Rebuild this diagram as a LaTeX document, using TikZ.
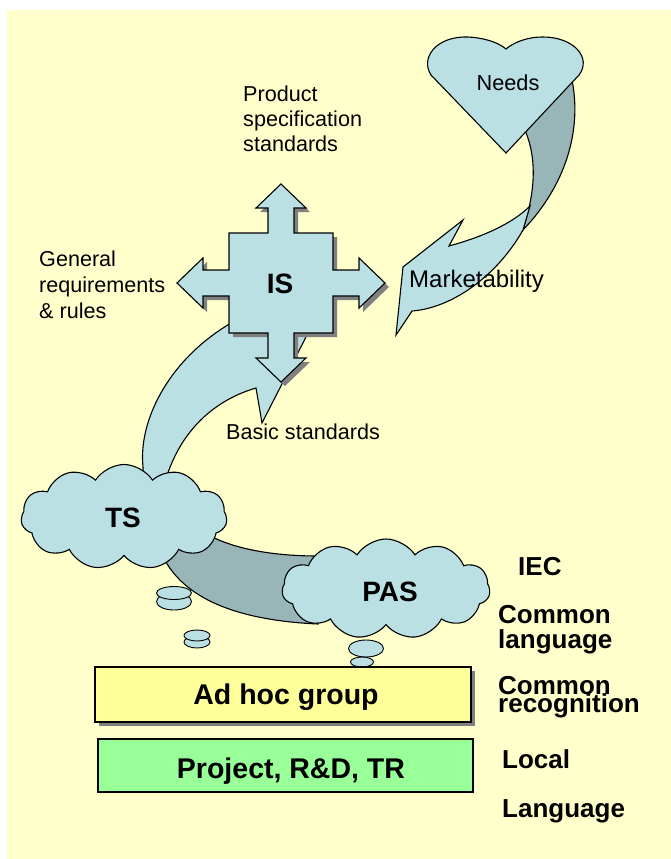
\documentclass[tikz,border=0pt]{standalone}
\usepackage{fontspec}
\setmainfont{Liberation Sans}
\usetikzlibrary{shapes.symbols}
\definecolor{bgyel}{HTML}{FFFFCC}
\definecolor{lblue}{HTML}{BAE0E4}
\definecolor{dblue}{HTML}{98B5B8}
\definecolor{boxyel}{HTML}{FFFF99}
\definecolor{boxgrn}{HTML}{99FF99}
\definecolor{shad}{HTML}{808080}
\begin{document}
\begin{tikzpicture}[x=1pt,y=-1pt,line join=miter,
  shapeln/.style={draw=black,line width=1.1pt,fill=lblue},
  darkln/.style={draw=black,line width=1.1pt,fill=dblue},
  bub/.style={draw=black,line width=0.9pt,fill=lblue},
  cloudst/.style={cloud,cloud puffs=11,cloud puff arc=115,draw=black,line width=1.1pt,fill=lblue,inner sep=0pt},
  boxst/.style={draw=black,line width=1.6pt,inner sep=0pt},
  lbl/.style={font=\fontsize{21.6}{26}\selectfont,inner sep=0pt,anchor=base west},
  biglbl/.style={font=\bfseries\fontsize{28}{32}\selectfont,inner sep=0pt,anchor=base},
  sidelbl/.style={font=\bfseries\fontsize{26}{30}\selectfont,inner sep=0pt,anchor=base west},
  isarrow/.pic={\path[pic actions] (0,-99) -- (25,-75) -- (13,-75) -- (13,-50) -- (52,-50) -- (52,-13) -- (78,-13) -- (78,-25) -- (104,0) -- (78,25) -- (78,13) -- (52,13) -- (52,50) -- (13,50) -- (13,75) -- (25,75) -- (0,99) -- (-25,75) -- (-13,75) -- (-13,50) -- (-52,50) -- (-52,13) -- (-78,13) -- (-78,25) -- (-104,0) -- (-78,-25) -- (-78,-13) -- (-52,-13) -- (-52,-50) -- (-13,-50) -- (-13,-75) -- (-25,-75) -- cycle;}
]
\useasboundingbox (0,0) rectangle (671,859);
\fill[bgyel] (7,10) rectangle (671,859);

% TS -> IS curved arrow
\draw[shapeln] (143,482) -- (143,467) .. controls (138,420) and (170,355) .. (240,318) -- (300,318) -- (308,333) -- (262,423) -- (256,388) .. controls (215,400) and (180,430) .. (165,482) -- cycle;

% IS four-way arrow with shadow
\pic[fill=shad] at (285,287) {isarrow};
\pic[draw=black,line width=1.1pt,fill=lblue] at (281,283) {isarrow};

% Needs -> Marketability arrow (dark back part)
\draw[darkln] (572,80) .. controls (582,130) and (566,185) .. (523,230) -- (528,212) .. controls (536,180) and (535,152) .. (524,128) -- cycle;
% heart
\draw[shapeln] (506,153) -- (431,75) .. controls (420,58) and (436,36) .. (468,37) .. controls (486,38) and (499,43) .. (506,49) .. controls (513,43) and (526,37) .. (543,37) .. controls (574,37) and (592,58) .. (579,75) -- cycle;
% light front part with head
\draw[shapeln] (530,206) .. controls (512,224) and (482,237) .. (449,246) -- (463,220) -- (403,267) -- (396,335) -- (412,311) .. controls (452,308) and (497,276) .. (523,230) -- cycle;

% band between TS and PAS
\draw[darkln] (205,533) .. controls (230,548) and (270,556) .. (318,556) -- (318,624) .. controls (230,620) and (178,595) .. (160,550) -- cycle;

% clouds
\node[cloudst,minimum width=206pt,minimum height=105pt] (tscloud) at (124,517) {};
\node[cloudst,minimum width=208pt,minimum height=100pt] (pascloud) at (386,589) {};

% thought bubbles
\draw[bub] (174,601.5) ellipse [x radius=17.5pt,y radius=8.5pt];
\draw[bub] (174,593) ellipse [x radius=17.5pt,y radius=6.5pt];
\draw[bub] (197,642) ellipse [x radius=13pt,y radius=6pt];
\draw[bub] (197,635.5) ellipse [x radius=13pt,y radius=5.5pt];
\draw[bub] (366,648.5) ellipse [x radius=17.5pt,y radius=8.5pt];
\draw[bub] (362,662) ellipse [x radius=11.5pt,y radius=5pt];

% boxes
\fill[shad] (99,671) rectangle (475,726);
\node[boxst,fill=boxyel,minimum width=376pt,minimum height=55pt] (adhoc) at (283,694.5) {};
\node[boxst,fill=boxgrn,minimum width=375pt,minimum height=53pt] (proj) at (285.5,765.5) {};

% texts
\node[biglbl] (istxt) at (280,293) {IS};
\node[biglbl] (tstxt) at (123,527) {TS};
\node[biglbl] (pastxt) at (390,601) {PAS};
\node[font=\bfseries\fontsize{28.5}{32}\selectfont,inner sep=0pt,anchor=base] (adhoctxt) at (286,704) {Ad hoc group};
\node[font=\bfseries\fontsize{28.5}{32}\selectfont,inner sep=0pt,anchor=base] (projtxt) at (291,778) {Project, R\&D, TR};

\node[font=\fontsize{21.7}{26}\selectfont,inner sep=0pt,anchor=base] (needs) at (508,90) {Needs};
\node[lbl] (prod1) at (243,101) {Product};
\node[lbl] (prod2) at (243,126) {specification};
\node[lbl] (prod3) at (243,151) {standards};
\node[lbl] (gen1) at (39,266) {General};
\node[lbl] (gen2) at (39,292) {requirements};
\node[lbl] (gen3) at (39,318) {\& rules};
\node[lbl,font=\fontsize{24}{28}\selectfont] (market) at (409,287) {Marketability};
\node[lbl] (basic) at (226,439) {Basic standards};

\node[sidelbl] (iec) at (518,575) {IEC};
\node[sidelbl] (cl1) at (498,623) {Common};
\node[sidelbl] (cl2) at (498,648) {language};
\node[sidelbl] (cr1) at (498,694) {Common};
\node[sidelbl] (cr2) at (498,712) {recognition};
\node[sidelbl] (local) at (502,768) {Local};
\node[sidelbl] (lang) at (502,817) {Language};
\end{tikzpicture}
\end{document}
